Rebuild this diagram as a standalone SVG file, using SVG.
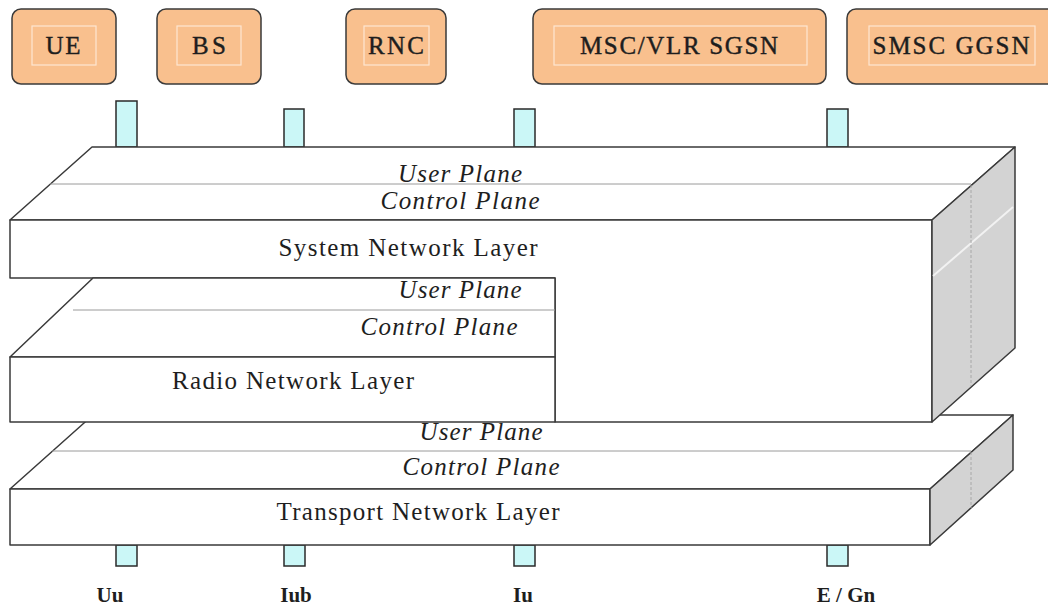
<svg xmlns="http://www.w3.org/2000/svg" width="1048" height="607" viewBox="0 0 1048 607">
  <defs>
    <style>
      text { font-family: 'Liberation Serif', 'Times New Roman', 'DejaVu Serif', serif; fill: #1e1e1e; text-anchor: middle; }
      .node rect.box { fill: #F9C08E; stroke: #3a3a3a; stroke-width: 1.5; }
      .node rect.inner { fill: none; stroke: #FDE6D2; stroke-width: 1.2; }
      .node text { font-size: 25px; stroke: #1e1e1e; stroke-width: 0.4; }
      .tick { fill: #CBF7F7; stroke: #2a2a2a; stroke-width: 1.5; }
      .face { fill: #ffffff; stroke: #3a3a3a; stroke-width: 1.5; stroke-linejoin: round; }
      .side { fill: #D3D3D3; stroke: #3a3a3a; stroke-width: 1.5; stroke-linejoin: round; }
      .sep { stroke: #9a9a9a; stroke-width: 1; fill: none; }
      .sep-side { stroke: #a8a8a8; stroke-width: 1; stroke-dasharray: 3 2; fill: none; }
      .hl { stroke: #f2f2f2; stroke-width: 2; fill: none; }
      .plane { font-style: italic; font-size: 25px; }
      .layer { font-size: 25px; }
      .iface { font-size: 21px; font-weight: bold; }
    </style>
  </defs>

  <rect width="1048" height="607" fill="#ffffff"/>

  <!-- network elements -->
  <g id="node-ue" class="node">
    <rect class="box" x="12" y="9" width="104" height="75" rx="9"/>
    <rect class="inner" x="32" y="26" width="64" height="39"/>
    <text x="63" y="54" textLength="35" lengthAdjust="spacing">UE</text>
  </g>
  <g id="node-bs" class="node">
    <rect class="box" x="157" y="9" width="104" height="75" rx="9"/>
    <rect class="inner" x="177" y="26" width="64" height="39"/>
    <text x="209" y="54" textLength="34" lengthAdjust="spacing">BS</text>
  </g>
  <g id="node-rnc" class="node">
    <rect class="box" x="346" y="9" width="100" height="75" rx="9"/>
    <rect class="inner" x="364" y="26" width="65" height="39"/>
    <text x="396" y="54" textLength="56" lengthAdjust="spacing">RNC</text>
  </g>
  <g id="node-msc" class="node">
    <rect class="box" x="533" y="9" width="293" height="75" rx="9"/>
    <rect class="inner" x="554" y="26" width="253" height="39"/>
    <text x="679" y="54" textLength="198" lengthAdjust="spacing">MSC/VLR SGSN</text>
  </g>
  <g id="node-smsc" class="node">
    <rect class="box" x="847" y="9" width="215" height="75" rx="9"/>
    <rect class="inner" x="869" y="26" width="166" height="39"/>
    <text x="951" y="54" textLength="157" lengthAdjust="spacing">SMSC GGSN</text>
  </g>

  <!-- interface stubs above and below the layer stack -->
  <g id="connectors">
    <rect class="tick" x="116" y="101" width="21" height="46"/>
    <rect class="tick" x="284" y="109" width="20" height="38"/>
    <rect class="tick" x="514" y="109" width="21" height="38"/>
    <rect class="tick" x="827" y="109" width="21" height="38"/>
    <rect class="tick" x="116" y="545" width="21" height="21"/>
    <rect class="tick" x="284" y="545" width="21" height="21"/>
    <rect class="tick" x="514" y="545" width="21" height="21"/>
    <rect class="tick" x="827" y="545" width="21" height="21"/>
  </g>

  <!-- Transport Network Layer slab -->
  <g id="layer-transport">
    <polygon class="face" points="10,489 93,415 1013,415 930,489"/>
    <line class="sep" x1="52" y1="451" x2="971" y2="451"/>
    <rect class="face" x="10" y="489" width="920" height="56"/>
    <polygon class="side" points="930,489 1013,415 1013,470 930,545"/>
    <line class="sep-side" x1="971" y1="452" x2="971" y2="508"/>
    <text class="plane" x="481" y="440" textLength="123" lengthAdjust="spacing">User Plane</text>
    <text class="plane" x="481" y="475" textLength="157" lengthAdjust="spacing">Control Plane</text>
    <text class="layer" x="418" y="520" textLength="283" lengthAdjust="spacing">Transport Network Layer</text>
  </g>

  <!-- System Network Layer block -->
  <g id="layer-system">
    <polygon class="face" points="10,220 92,147 1015,147 932,220"/>
    <line class="sep" x1="50" y1="184" x2="971" y2="184"/>
    <polygon class="face" points="10,220 932,220 932,422 555,422 555,278 10,278"/>
    <polygon class="side" points="932,220 1015,147 1015,348 932,422"/>
    <line class="hl" x1="933" y1="276" x2="1013" y2="207"/>
    <line class="sep-side" x1="971" y1="185" x2="971" y2="386"/>
    <text class="plane" x="460" y="182" textLength="124" lengthAdjust="spacing">User Plane</text>
    <text class="plane" x="460" y="209" textLength="159" lengthAdjust="spacing">Control Plane</text>
    <text class="layer" x="408" y="256" textLength="259" lengthAdjust="spacing">System Network Layer</text>
  </g>

  <!-- Radio Network Layer block -->
  <g id="layer-radio">
    <polygon class="face" points="10,357 93,278 555,278 555,357"/>
    <line class="sep" x1="73" y1="310" x2="555" y2="310"/>
    <rect class="face" x="10" y="357" width="545" height="65"/>
    <text class="plane" x="460" y="298" textLength="123" lengthAdjust="spacing">User Plane</text>
    <text class="plane" x="439" y="335" textLength="157" lengthAdjust="spacing">Control Plane</text>
    <text class="layer" x="293" y="389" textLength="242" lengthAdjust="spacing">Radio Network Layer</text>
  </g>

  <!-- interface names -->
  <g id="interface-labels">
    <text class="iface" x="110" y="602">Uu</text>
    <text class="iface" x="296" y="602">Iub</text>
    <text class="iface" x="523" y="602">Iu</text>
    <text class="iface" x="846" y="602">E / Gn</text>
  </g>
</svg>
